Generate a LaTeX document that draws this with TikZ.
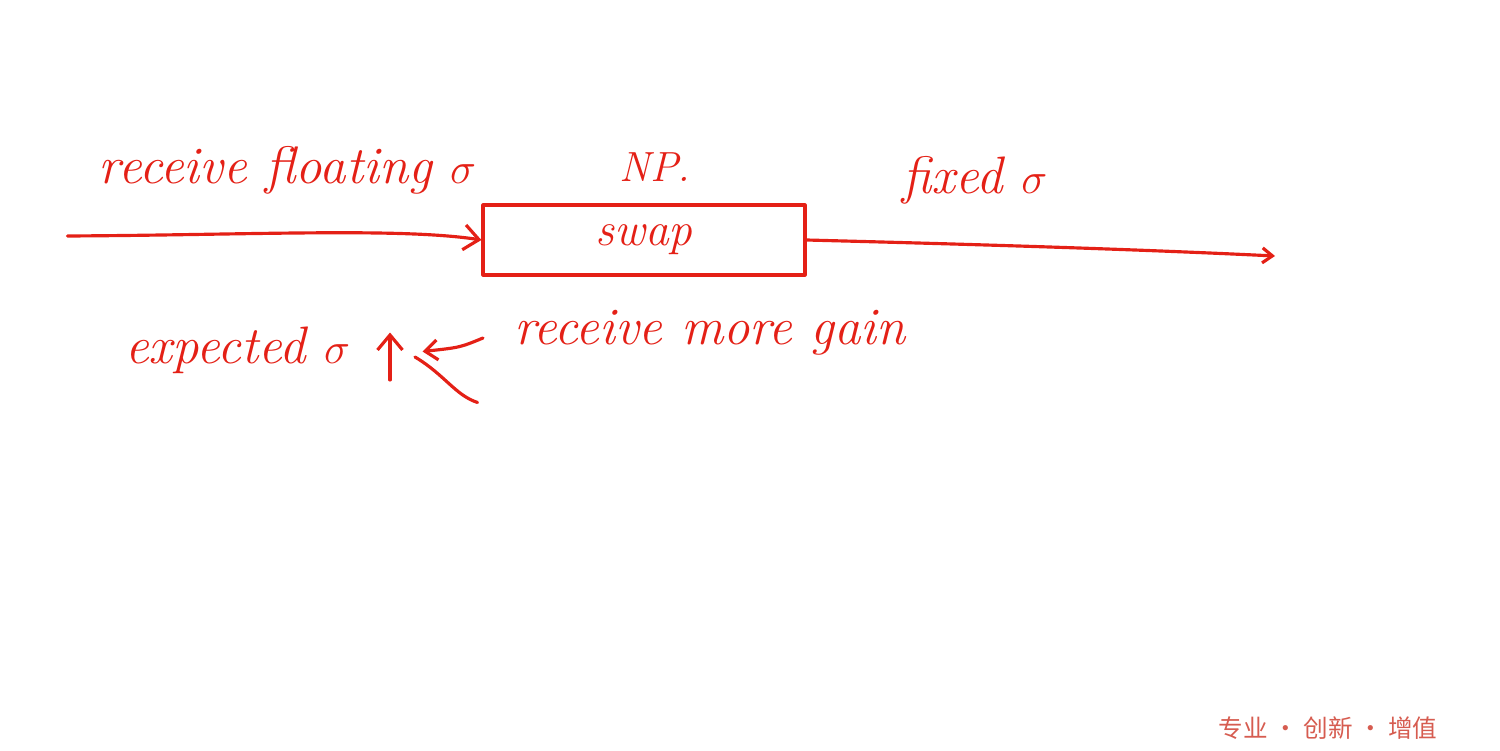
\documentclass[tikz,border=0pt]{standalone}
\usepackage{fontspec}
\usepackage{amsmath}
\usepackage{tikz}
\usetikzlibrary{arrows.meta}
\newfontfamily\cjkfont{Noto Sans CJK SC}
\definecolor{ink}{RGB}{228,32,22}
\definecolor{mottored}{RGB}{214,92,80}

\begin{document}
\begin{tikzpicture}
        \useasboundingbox (0,0) rectangle (30,15);
        \tikzset{
            hand/.style={ink, line width=1.8pt, line cap=round, line join=round},
            word/.style={ink, font=\fontsize{30}{33}\selectfont\itshape, inner sep=0pt},
            swapbox/.style={hand, draw, minimum width=6.44cm, minimum height=1.4cm, font=\fontsize{27}{30}\selectfont\itshape, text=ink}
        }
        \node[swapbox] (swap) at (12.88,10.2) {\raisebox{-3pt}{swap}};
        \node[word] (floating) at (5.75,11.6) {receive floating $\sigma$};
        \node[word, font=\fontsize{24}{27}\selectfont\itshape] (np) at (13.1,11.65) {NP.};
        \node[word] (fixed) at (19.5,11.4) {fixed $\sigma$};
        \node[word] (expected) at (4.75,8.0) {expected $\sigma$};
        \node[word] (gain) at (14.2,8.35) {receive more gain};
        \coordinate (start) at (1.35,10.28);
        \coordinate (finish) at (25.5,9.88);
        \coordinate (uptail) at (7.8,7.4);
        \coordinate (uphead) at (7.8,8.35);
        \coordinate (pointer) at (9.66,8.24);
        \coordinate (kink) at (8.3,7.86);
        \coordinate (tailend) at (9.55,6.95);
        \draw[hand, -{Straight Barb[length=3mm,width=5mm]}] (start) .. controls (5,10.3) and (8,10.45) .. (swap.west);
        \draw[hand, -{Straight Barb[length=2mm,width=3mm]}] (swap.east) .. controls (18,10.15) and (22,10.05) .. (finish);
        \draw[hand, -{Straight Barb[length=3mm,width=5mm]}] (uptail) -- (uphead);
        \draw[hand, -{Straight Barb[length=2.5mm,width=4mm]}] (pointer) .. controls (9.2,8.05) .. (8.45,7.97);
        \draw[hand] (kink) .. controls (8.9,7.5) and (9.1,7.1) .. (tailend);
        \node[text=mottored, font=\cjkfont\fontsize{14}{16}\selectfont] (motto) at (26.56,0.44) {专业 · 创新 · 增值};
    \end{tikzpicture}
\end{document}
